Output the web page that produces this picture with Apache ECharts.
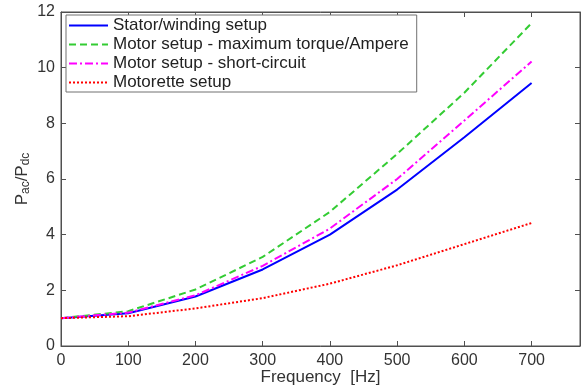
<!DOCTYPE html>
<html><head><meta charset="utf-8">
<script src="https://cdn.jsdelivr.net/npm/echarts@6/dist/echarts.min.js"></script>
<style>html,body{margin:0;padding:0;background:#fff}#c{width:582px;height:387px}</style>
</head><body><div id="c"></div>
<script>
const freq = [0, 100, 200, 300, 400, 500, 600, 700];
const stator = [1.0, 1.18, 1.78, 2.75, 4.0, 5.62, 7.5, 9.45];
const motorMaxTorque = [1.0, 1.25, 2.03, 3.2, 4.82, 6.9, 9.1, 11.6];
const motorShort = [1.0, 1.2, 1.82, 2.88, 4.22, 6.0, 8.1, 10.22];
const motorette = [1.0, 1.07, 1.35, 1.72, 2.24, 2.9, 3.66, 4.42];
const names = ['Stator/winding setup', 'Motor setup - maximum torque/Ampere', 'Motor setup - short-circuit', 'Motorette setup'];

const pair = a => freq.map((f, i) => [f, a[i]]);
const font = 'Liberation Sans, Arial, sans-serif';
const axCol = '#505050';
const chart = echarts.init(document.getElementById('c'));
const xBase = {type: 'value', min: 0, max: 772, interval: 100,
  axisLine: {show: true, onZero: false, lineStyle: {color: axCol}},
  axisTick: {show: true, inside: true, length: 5, lineStyle: {color: axCol}},
  splitLine: {show: false}};
const yBase = {type: 'value', min: 0, max: 12, interval: 2,
  axisLine: {show: true, onZero: false, lineStyle: {color: axCol}},
  axisTick: {show: true, inside: true, length: 5, lineStyle: {color: axCol}},
  splitLine: {show: false}};
chart.setOption({
  animation: false,
  grid: {left: 61, right: 2, top: 12, bottom: 41, show: true, borderColor: axCol, borderWidth: 1,
    containLabel: false, outerBoundsMode: 'none'},
  legend: {
    left: 66, top: 15, orient: 'vertical', itemWidth: 39, itemHeight: 10, itemGap: 2,
    padding: [2, 8, 1, 2],
    borderColor: '#707070', borderWidth: 1, backgroundColor: '#fff',
    itemStyle: {opacity: 0},
    textStyle: {fontFamily: font, fontSize: 17, color: '#222'},
    data: names
  },
  xAxis: [
    Object.assign({}, xBase, {position: 'bottom', name: 'Frequency  [Hz]', nameLocation: 'middle', nameGap: 23, nameMoveOverlap: false,
      nameTextStyle: {fontFamily: font, fontSize: 17, color: '#333'},
      axisLabel: {show: true, color: '#333', fontFamily: font, fontSize: 16, margin: 7,
        formatter: v => (v % 100 === 0 ? String(v) : '')}}),
    Object.assign({}, xBase, {position: 'top', axisLabel: {show: false}})
  ],
  yAxis: [
    Object.assign({}, yBase, {position: 'left', name: '{m|P}{s|ac}{m|/P}{s|dc}', nameLocation: 'middle', nameGap: 29, nameRotate: 90, nameMoveOverlap: false,
      nameTextStyle: {fontFamily: font, rich: {m: {fontFamily: font, fontSize: 17, color: '#333'}, s: {fontFamily: font, fontSize: 12, color: '#333', verticalAlign: 'bottom', padding: [8, 0, 0, 0]}}},
      axisLabel: {show: true, color: '#333', fontFamily: font, fontSize: 16, margin: 6}}),
    Object.assign({}, yBase, {position: 'right', axisLabel: {show: false}})
  ],
  series: [
    {name: names[0], type: 'line', data: pair(stator), showSymbol: false, symbol: 'none', lineStyle: {color: '#0000ff', width: 2, type: 'solid'}, itemStyle: {color: '#0000ff'}},
    {name: names[1], type: 'line', data: pair(motorMaxTorque), showSymbol: false, symbol: 'none', lineStyle: {color: '#33cc33', width: 2, type: [7, 4]}, itemStyle: {color: '#33cc33'}},
    {name: names[2], type: 'line', data: pair(motorShort), showSymbol: false, symbol: 'none', lineStyle: {color: '#ff00ff', width: 2, type: [8, 3, 2, 3]}, itemStyle: {color: '#ff00ff'}},
    {name: names[3], type: 'line', data: pair(motorette), showSymbol: false, symbol: 'none', lineStyle: {color: '#ff0000', width: 2, type: [2, 2]}, itemStyle: {color: '#ff0000'}}
  ]
});
</script></body></html>
